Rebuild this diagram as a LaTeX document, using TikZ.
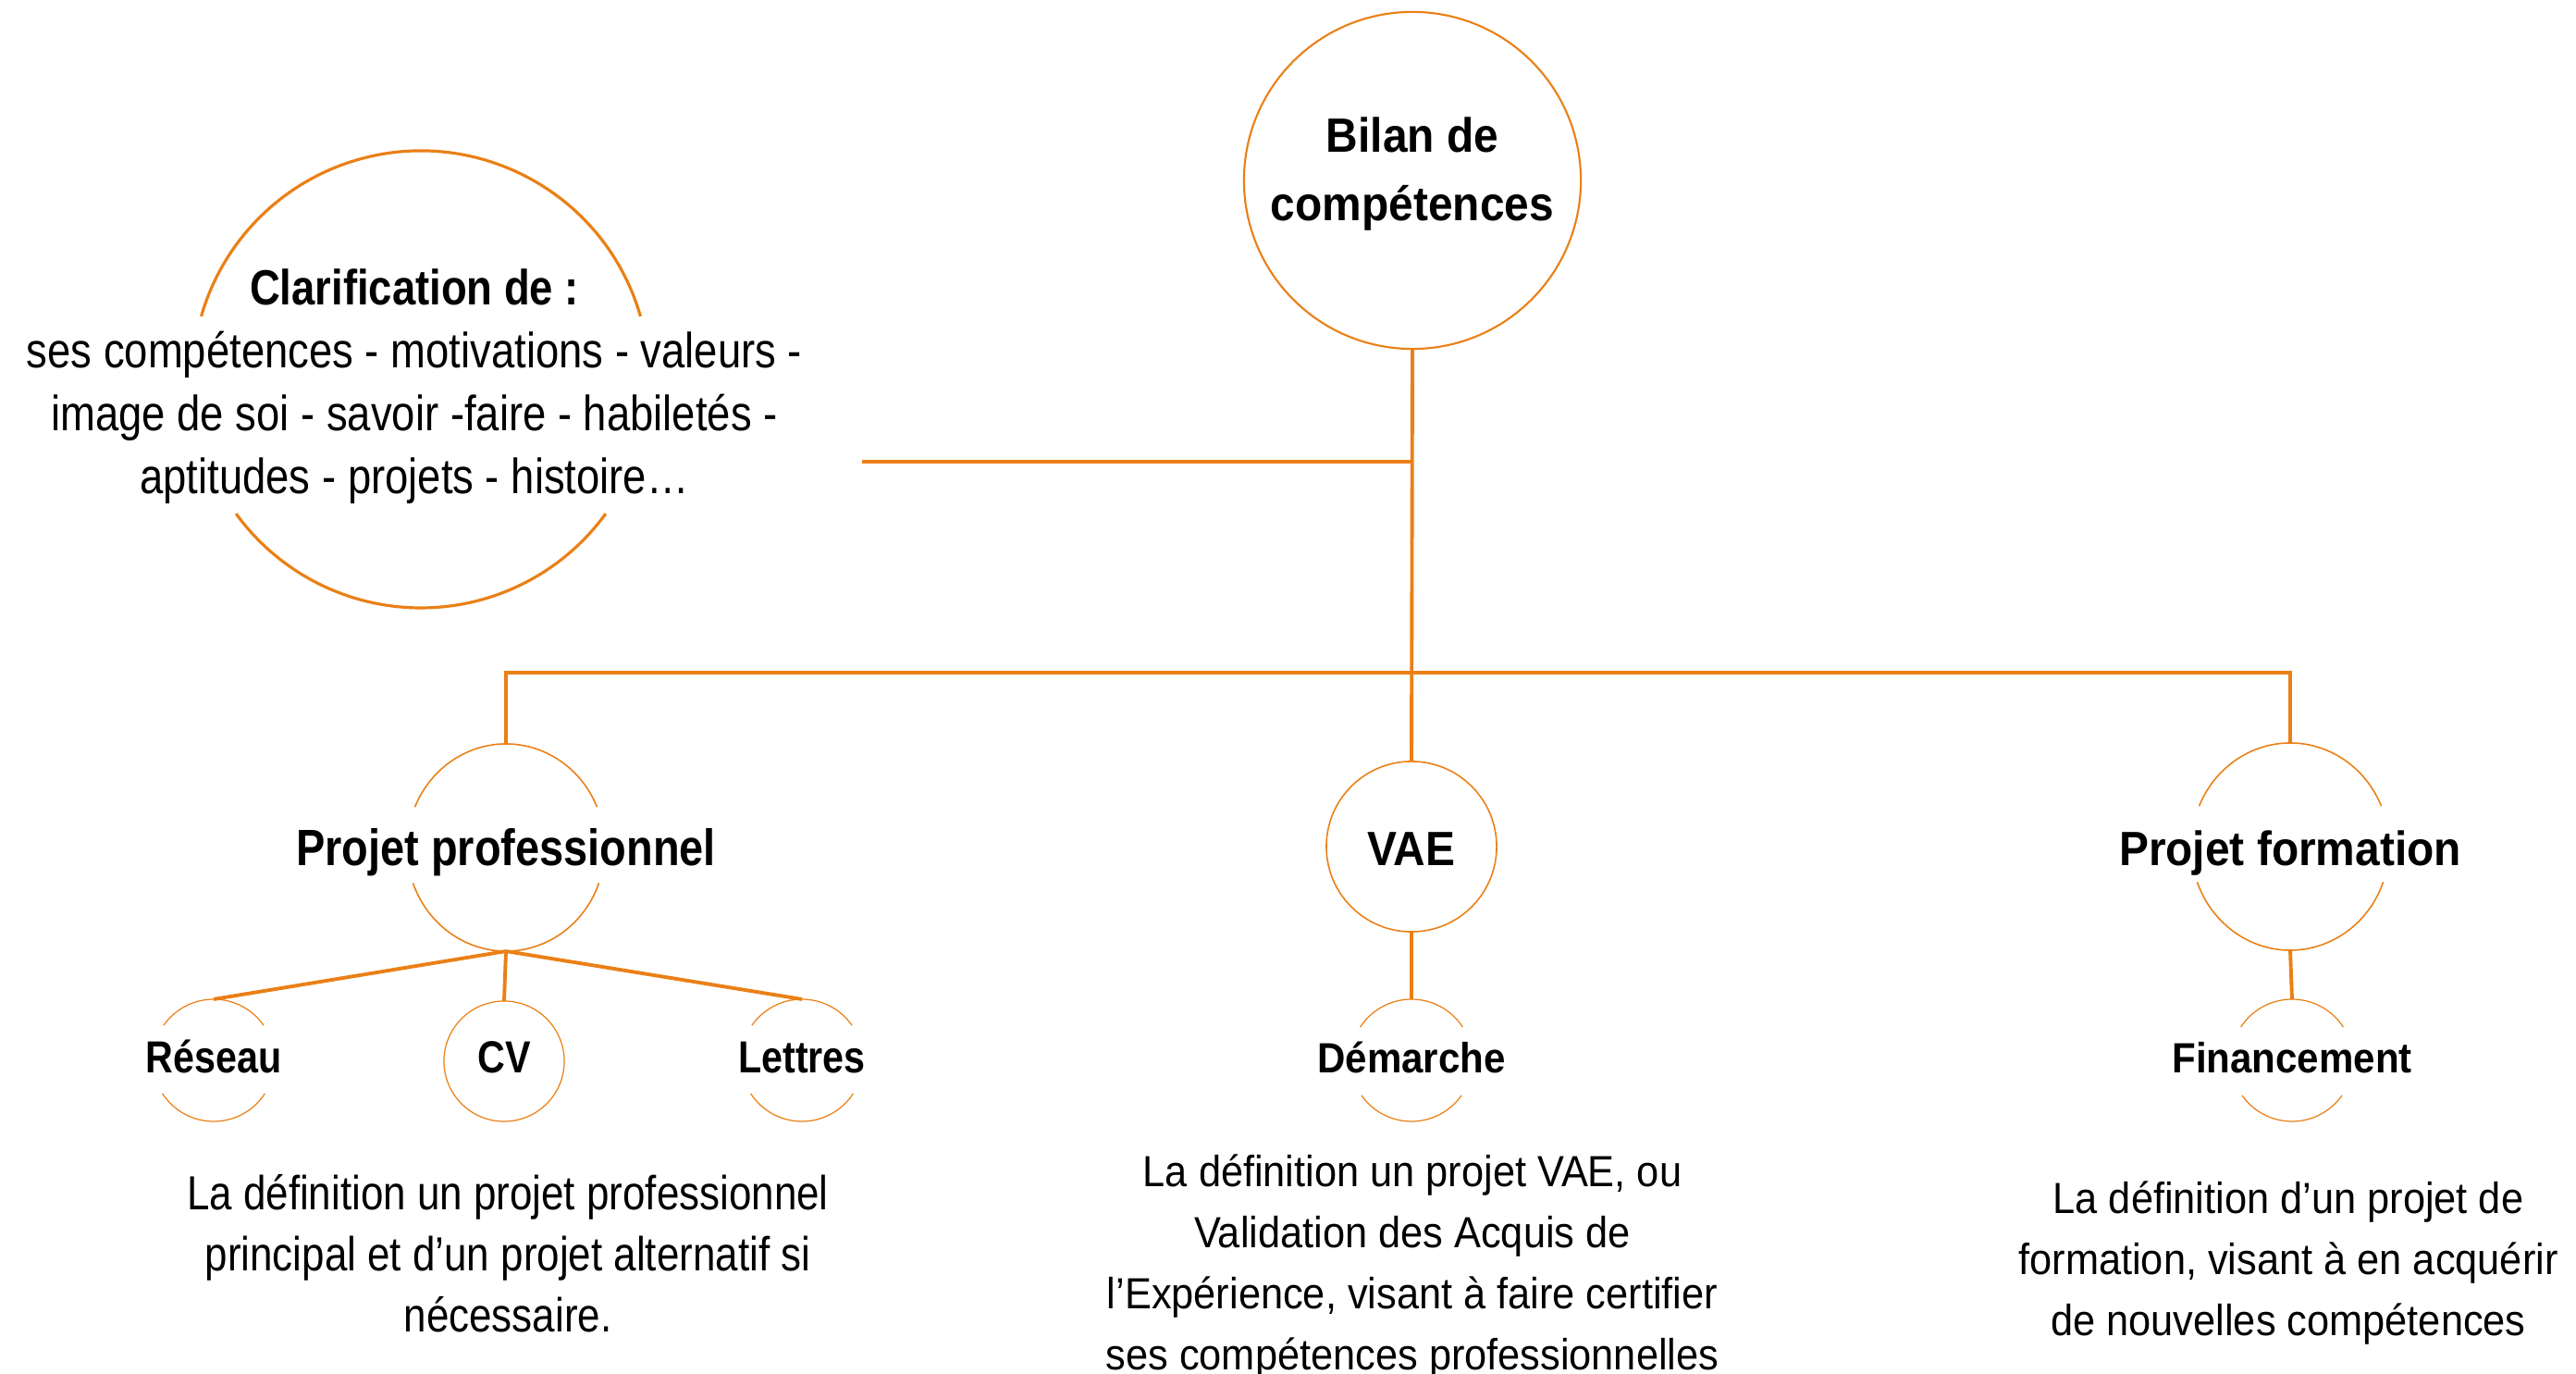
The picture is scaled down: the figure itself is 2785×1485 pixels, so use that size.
\documentclass[tikz,border=0pt]{standalone}
\usepackage{fontspec}
\setmainfont{Liberation Sans}[FakeStretch=0.92]
\newfontfamily\condfont{Liberation Sans}[FakeStretch=0.85]
\usetikzlibrary{shapes.geometric}
\definecolor{bilanorange}{RGB}{234,128,22}

\begin{document}
\begin{tikzpicture}[x=0.01cm, y=0.01cm,
  link/.style={draw=bilanorange, line width=1.1pt},
  ring/.style={draw=bilanorange, line width=#1}, ring/.default=0.45pt,
  oval/.style={ellipse, inner sep=0, outer sep=0},
  headlbl/.style={font=\bfseries\fontsize{14.8}{21}\selectfont, anchor=base},
  smalllbl/.style={font=\bfseries\fontsize{13}{15}\selectfont, anchor=base},
  condhead/.style={font=\condfont\bfseries\fontsize{15.7}{19}\selectfont, anchor=base},
  condlbl/.style={font=\condfont\bfseries\fontsize{13.8}{17}\selectfont, anchor=base},
  desctxt/.style={font=\fontsize{13.4}{18.8}\selectfont, align=center},
  conddesc/.style={font=\condfont\fontsize{14.7}{18.8}\selectfont, align=center}]
  \useasboundingbox (0,0) rectangle (2785,1485);
  \clip (0,0) rectangle (2785,1485);

  % top
  \node[oval, ring=0.6pt, minimum size=3.64cm] (bilan) at (1527,1290) {};
  \node[headlbl, align=center, anchor=center] (bilan-txt) at (1527,1297) {Bilan de\\compétences};

  % clarification
  \node[oval, minimum size=4.94cm] (clar) at (455,1075) {};
  \draw[ring=0.9pt] (clar.center) ++(16:247) arc[start angle=16, end angle=164, radius=247];
  \draw[ring=0.9pt] (clar.center) ++(-36:247) arc[start angle=-36, end angle=-144, radius=247];
  \node[conddesc, font=\condfont\fontsize{15.2}{19.3}\selectfont] (clar-txt) at (448,1067)
    {{\bfseries Clarification de :}\\ses compétences - motivations - valeurs -\\image de soi - savoir -faire - habiletés -\\aptitudes - projets - histoire…};
  \coordinate (clar-end) at (932,986);

  % second level
  \node[oval, minimum width=2.14cm, minimum height=2.24cm] (pp) at (547,569) {};
  \node[oval, ring, minimum size=1.84cm] (vae) at (1526,570) {};
  \node[oval, minimum width=2.14cm, minimum height=2.24cm] (pf) at (2476,570) {};
  \draw[ring] (pp.center) ++(23:107 and 112) arc[start angle=23, end angle=157, x radius=107, y radius=112];
  \draw[ring] (pp.center) ++(-20:107 and 112) arc[start angle=-20, end angle=-160, x radius=107, y radius=112];
  \draw[ring] (pf.center) ++(23:107 and 112) arc[start angle=23, end angle=157, x radius=107, y radius=112];
  \draw[ring] (pf.center) ++(-20:107 and 112) arc[start angle=-20, end angle=-160, x radius=107, y radius=112];
  \node[condhead] (pp-txt) at (547,549) {Projet professionnel};
  \node[headlbl] (vae-txt) at (1526,549) {VAE};
  \node[headlbl] (pf-txt) at (2476,549) {Projet formation};

  % third level
  \node[oval, minimum size=1.32cm] (res) at (231,339) {};
  \node[oval, ring=0.35pt, minimum size=1.30cm] (cv) at (545,338) {};
  \node[oval, minimum size=1.32cm] (let) at (867,339) {};
  \node[oval, minimum size=1.32cm] (dem) at (1526,339) {};
  \node[oval, minimum size=1.32cm] (fin) at (2478,339) {};
  \draw[ring=0.35pt] (res.center) ++(35:66) arc[start angle=35, end angle=145, radius=66];
  \draw[ring=0.35pt] (res.center) ++(-33:66) arc[start angle=-33, end angle=-147, radius=66];
  \draw[ring=0.35pt] (let.center) ++(35:66) arc[start angle=35, end angle=145, radius=66];
  \draw[ring=0.35pt] (let.center) ++(-33:66) arc[start angle=-33, end angle=-147, radius=66];
  \draw[ring=0.35pt] (dem.center) ++(33:66) arc[start angle=33, end angle=147, radius=66];
  \draw[ring=0.35pt] (dem.center) ++(-35:66) arc[start angle=-35, end angle=-145, radius=66];
  \draw[ring=0.35pt] (fin.center) ++(33:66) arc[start angle=33, end angle=147, radius=66];
  \draw[ring=0.35pt] (fin.center) ++(-35:66) arc[start angle=-35, end angle=-145, radius=66];
  \node[condlbl] (res-txt) at (231,325) {Réseau};
  \node[condlbl] (cv-txt) at (545,325) {CV};
  \node[condlbl] (let-txt) at (867,325) {Lettres};
  \node[smalllbl] (dem-txt) at (1526,325) {Démarche};
  \node[smalllbl] (fin-txt) at (2478,325) {Financement};

  % descriptions
  \node[conddesc] (pp-desc) at (549,130) {La définition un projet professionnel\\principal et d’un projet alternatif si\\nécessaire.};
  \node[desctxt] (vae-desc) at (1527,116) {La définition un projet VAE, ou\\Validation des Acquis de\\l’Expérience, visant à faire certifier\\ses compétences professionnelles};
  \node[desctxt] (pf-desc) at (2474,120) {La définition d’un projet de\\formation, visant à en acquérir\\de nouvelles compétences};

  % connectors
  \draw[link] (bilan.south) -- (vae.north);
  \draw[link] (clar-end) -- (clar-end -| bilan.south);
  \draw[link] (pp.north) -- ++(0,77) -| (pf.north);
  \draw[link] (pp.south) -- (res.north);
  \draw[link] (pp.south) -- (cv.north);
  \draw[link] (pp.south) -- (let.north);
  \draw[link] (vae.south) -- (dem.north);
  \draw[link] (pf.south) -- (fin.north);
\end{tikzpicture}
\end{document}
